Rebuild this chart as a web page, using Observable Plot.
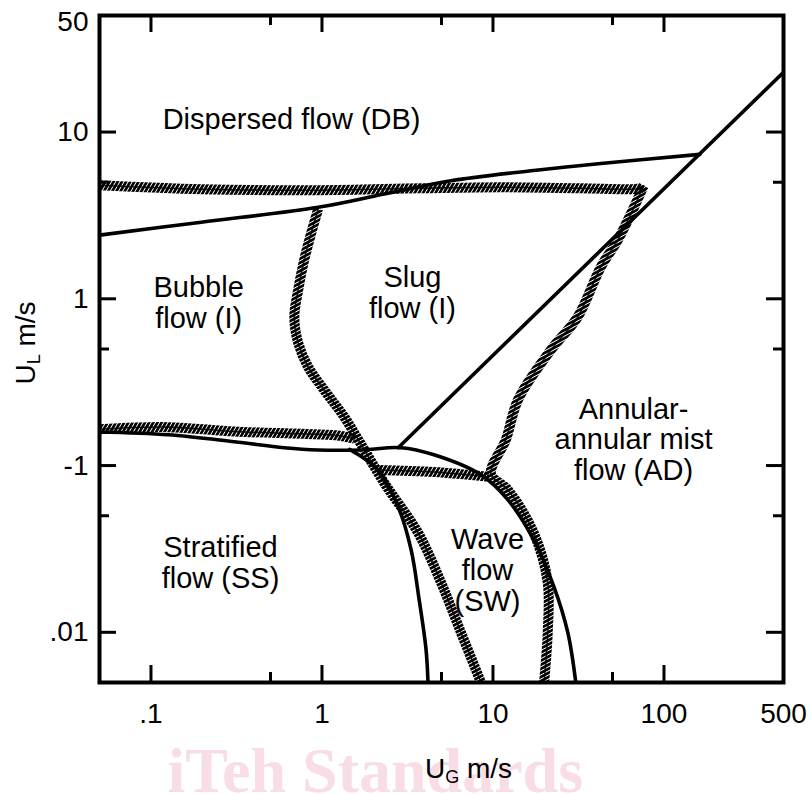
<!DOCTYPE html>
<html>
<head>
<meta charset="utf-8">
<script src="https://cdn.jsdelivr.net/npm/d3@7"></script>
<script src="https://cdn.jsdelivr.net/npm/@observablehq/plot@0.6"></script>
<style>
  html, body { margin: 0; padding: 0; background: #fff; }
  #chart svg { display: block; }
</style>
</head>
<body>
<div id="chart"></div>
<script>
// ---- tick values and labels ----
const xTickValues = [0.1, 1, 10, 100, 500];
const xTickLabels = [".1", "1", "10", "100", "500"];
const xTicksMajor = [0.1, 1, 10, 100];
const xTicksMinor = [0.5, 5, 50];
const yTickValues = [10, 1, 0.1, 0.01];
const yTickLabels = ["10", "1", "-1", ".01"];
const yTopValue = [50];
const yTopLabel = ["50"];
const yTicksMajor = [10, 1, 0.1, 0.01];
const yTicksMinor = [5, 0.5, 0.05];

// ---- solid boundaries [U_G, U_L] ----
const lineDB = [[0.05, 2.41], [0.197, 2.88], [0.95, 3.54], [2.31, 4.25], [5.68, 5.1], [17.3, 5.88], [42.7, 6.48], [162, 7.35]];
const lineDiagonal = [[2.79, 0.128], [500, 22.8]];
const lineStratTop = [[0.05, 0.159], [0.126, 0.153], [0.307, 0.139], [0.601, 0.128], [0.95, 0.124], [1.69, 0.124], [2.9, 0.128], [4.52, 0.116], [8.5, 0.088], [12.2, 0.0624], [17.3, 0.0359], [22.7, 0.0188], [27.4, 0.00996], [30.5, 0.005]];
const lineStratWave = [[1.45, 0.125], [2.13, 0.094], [2.79, 0.0566], [3.32, 0.0313], [3.7, 0.0157], [4.06, 0.00789], [4.17, 0.005]];

// ---- hatched (experimental) boundaries ----
const hatchBubbleSlug = [[0.95, 3.45], [0.865, 2.48], [0.787, 1.71], [0.726, 1.13], [0.689, 0.778], [0.726, 0.543], [0.83, 0.39], [1.03, 0.284], [1.35, 0.196], [1.63, 0.143], [2.31, 0.0789], [3.65, 0.0395], [4.97, 0.0199], [6.5, 0.00996], [8.51, 0.005]];
const hatchDispersed = [[0.05, 4.8], [0.197, 4.54], [0.95, 4.48], [3.79, 4.6], [11.1, 4.67], [32.6, 4.6], [73, 4.6], [76, 4.75]];
const hatchSlugAnnular = [[76, 4.75], [65.6, 3.4], [53.7, 2.25], [42.7, 1.55], [31.3, 0.778], [21.8, 0.493], [14.0, 0.248], [11.9, 0.143], [9.73, 0.089], [12.2, 0.0716], [17.3, 0.0395], [20.9, 0.0199], [20.9, 0.00996], [19.9, 0.005]];
const hatchWaveTop = [[2.13, 0.094], [4.52, 0.0915], [9.4, 0.0857]];
const hatchStratTop = [[0.05, 0.165], [0.126, 0.17], [0.307, 0.16], [0.757, 0.155], [1.2, 0.152], [1.55, 0.145]];

// ---- region labels ----
const regionText = ["Dispersed flow (DB)", "Bubble\nflow (I)", "Slug\nflow (I)", "Annular-\nannular mist\nflow (AD)", "Stratified\nflow (SS)", "Wave\nflow\n(SW)"];
const regionX = [0.664, 0.19, 3.38, 66.4, 0.255, 9.29];
const regionY = [11.9, 0.945, 1.09, 0.143, 0.0261, 0.0236];

const xAxisTitle = "UG m/s";
const yAxisTitle = "UL m/s";
const watermark = "iTeh Standards";

const xLabelMap = new Map(xTickValues.map((v, i) => [v, xTickLabels[i]]));
const yLabelMap = new Map(yTickValues.map((v, i) => [v, yTickLabels[i]]));
const regions = regionText.map((t, i) => ({text: t, x: regionX[i], y: regionY[i]}));

const solidStyle = {x: d => d[0], y: d => d[1], stroke: "black", strokeWidth: 3.6, curve: "catmull-rom", clip: true};
const hatchFlat = {x: d => d[0], y: d => d[1], stroke: "url(#hatchFlat)", strokeWidth: 10, curve: "catmull-rom", clip: true, strokeLinecap: "butt"};
const hatchSteep = {x: d => d[0], y: d => d[1], stroke: "url(#hatchSteep)", strokeWidth: 10, curve: "catmull-rom", clip: true, strokeLinecap: "butt"};
const coreStyle = {x: d => d[0], y: d => d[1], stroke: "black", strokeWidth: 1.6, strokeOpacity: 0.85, curve: "catmull-rom", clip: true};

const flatBands = [hatchDispersed, hatchWaveTop, hatchStratTop];
const steepBands = [hatchBubbleSlug, hatchSlugAnnular];

const chart = Plot.plot({
  width: 811,
  height: 794,
  marginLeft: 99,
  marginRight: 28,
  marginTop: 15,
  marginBottom: 112,
  style: {fontFamily: "'Liberation Sans', Arial, Helvetica, sans-serif", fontSize: "28px", color: "black", background: "white"},
  x: {type: "log", domain: [0.05, 500], axis: null},
  y: {type: "log", domain: [0.005, 50], axis: null},
  marks: [
    Plot.text([watermark], {frameAnchor: "bottom-left", dx: 68, dy: 109, text: d => d, textAnchor: "start", lineAnchor: "bottom", fontFamily: "'Liberation Serif', 'Times New Roman', serif", fontWeight: "bold", fontSize: 64, fill: "#f8dde5"}),
    ...flatBands.map(h => Plot.line(h, hatchFlat)),
    ...steepBands.map(h => Plot.line(h, hatchSteep)),
    ...flatBands.concat(steepBands).map(h => Plot.line(h, coreStyle)),
    Plot.line(lineDB, solidStyle),
    Plot.line(lineDiagonal, solidStyle),
    Plot.line(lineStratTop, solidStyle),
    Plot.line(lineStratWave, solidStyle),
    // inward ticks
    Plot.ruleX(xTicksMajor, {x: d => d, insetTop: 650, stroke: "black", strokeWidth: 3}),
    Plot.ruleX(xTicksMinor, {x: d => d, insetTop: 657, stroke: "black", strokeWidth: 3}),
    Plot.ruleX(xTicksMajor, {x: d => d, insetBottom: 650, stroke: "black", strokeWidth: 3}),
    Plot.ruleX(xTicksMinor, {x: d => d, insetBottom: 657, stroke: "black", strokeWidth: 3}),
    Plot.ruleY(yTicksMajor, {y: d => d, insetRight: 667, stroke: "black", strokeWidth: 3}),
    Plot.ruleY(yTicksMinor, {y: d => d, insetRight: 674, stroke: "black", strokeWidth: 3}),
    Plot.ruleY(yTicksMajor, {y: d => d, insetLeft: 667, stroke: "black", strokeWidth: 3}),
    Plot.ruleY(yTicksMinor, {y: d => d, insetLeft: 674, stroke: "black", strokeWidth: 3}),
    Plot.frame({stroke: "black", strokeWidth: 4}),
    // tick labels
    Plot.text(xTickValues, {x: d => d, frameAnchor: "bottom", dy: 21, lineAnchor: "top", text: d => xLabelMap.get(d), fontSize: 28, fill: "black"}),
    Plot.text(yTickValues, {y: d => d, frameAnchor: "left", dx: -11, textAnchor: "end", text: d => yLabelMap.get(d), fontSize: 28, fill: "black"}),
    Plot.text(yTopValue, {y: d => d, frameAnchor: "left", dx: -11, dy: 7, textAnchor: "end", text: d => yTopLabel[0], fontSize: 28, fill: "black"}),
    // region labels
    Plot.text(regions, {x: "x", y: "y", text: "text", fontSize: 29, lineHeight: 1.06, textAnchor: "middle", fill: "black"}),
    // axis titles
    Plot.text([yAxisTitle], {frameAnchor: "left", dx: -73, dy: -6, rotate: -90, text: d => d, fontSize: 28, textAnchor: "middle", fill: "black"}),
    Plot.text([xAxisTitle], {frameAnchor: "bottom", dx: 27, dy: 95, text: d => d, fontSize: 28, textAnchor: "middle", fill: "black"})
  ]
});

// hatch pattern definitions
const sel = d3.select(chart);
const defs = sel.insert("defs", ":first-child");
function addPattern(id, angle) {
  const p = defs.append("pattern")
    .attr("id", id)
    .attr("patternUnits", "userSpaceOnUse")
    .attr("width", 3.6)
    .attr("height", 3.6)
    .attr("patternTransform", `rotate(${angle})`);
  p.append("rect").attr("width", 2.4).attr("height", 3.6).attr("fill", "black").attr("shape-rendering", "crispEdges");
}
addPattern("hatchFlat", 30);
addPattern("hatchSteep", 62);

// subscripts in axis titles
function subscriptify(full, main, sub, rest) {
  sel.selectAll("text").each(function () {
    if (this.textContent === full && this.childElementCount === 0) {
      const t = d3.select(this);
      t.text(null);
      t.append("tspan").text(main);
      t.append("tspan").attr("font-size", 18).attr("dy", 5).text(sub);
      t.append("tspan").attr("dy", -5).text(rest);
    }
  });
}
subscriptify(xAxisTitle, "U", "G", " m/s");
subscriptify(yAxisTitle, "U", "L", " m/s");

document.getElementById("chart").appendChild(chart);
</script>
</body>
</html>
